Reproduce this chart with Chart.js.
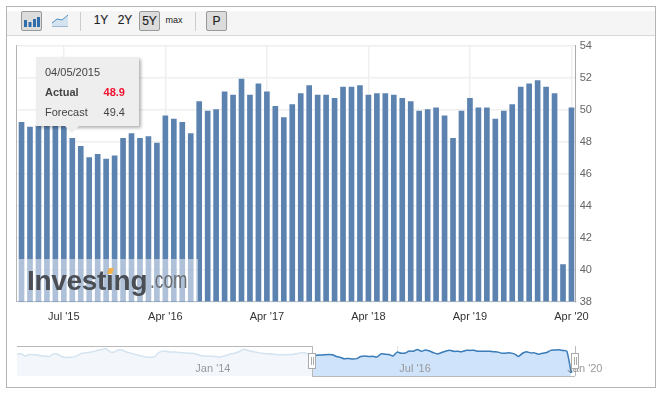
<!DOCTYPE html>
<html>
<head>
<meta charset="utf-8">
<title>Investing chart</title>
<script src="https://cdn.jsdelivr.net/npm/chart.js@4"></script>
<style>
  html, body { margin: 0; padding: 0; background: #fff; overflow: hidden; }
  body { font-family: "Liberation Sans", Arial, sans-serif; width: 662px; height: 395px; position: relative; }
  canvas { position: absolute; left: 0; }
  #frame { position: absolute; left: 6px; top: 6px; width: 648px; height: 380px; border: 1px solid #b4b4b4; }
  #toolbar { position: absolute; left: 7px; top: 11px; width: 648px; height: 24px; background: #f5f5f5; border-bottom: 1px solid #d8d8d8; }
  .btn { position: absolute; top: 11px; height: 20px; box-sizing: border-box; text-align: center; font-size: 12px; line-height: 19px; color: #222; -webkit-text-stroke: 0.15px #222; }
  .btn.on { background: #dcdcdc; border: 1px solid #999; border-radius: 2px; }
  .sep { position: absolute; top: 12px; height: 19px; width: 1px; background: #ccc; }
  #leftLine { position: absolute; left: 16px; top: 45px; width: 1px; height: 257px; background: #b4b4b4; }
  #mark { position: absolute; left: 17px; top: 259px; width: 181px; height: 42px; background: rgba(255,255,255,0.5); overflow: hidden; }
  #mark .big { position: absolute; left: 10px; top: 5px; font-size: 28px; font-weight: bold; letter-spacing: -0.3px; color: #4b4f55; line-height: 33px; }
  #mark .com { position: absolute; left: 133px; top: 5px; font-size: 24px; color: #6b6e72; line-height: 32px; transform: scaleX(0.72); transform-origin: left top; }
  #mark .dot { position: absolute; left: 91px; top: 9px; width: 5px; height: 6px; background: #f4b24c; transform: skewX(-15deg); }
  #tip { position: absolute; left: 36px; top: 57px; width: 103px; height: 69px; background: #eeeeee; box-shadow: 2px 2px 3px rgba(0,0,0,0.3); font-size: 11px; color: #444; }
  #tip div { position: absolute; white-space: nowrap; }
  #tipArrow { position: absolute; left: 65px; top: 126px; width: 0; height: 0; border-left: 7px solid transparent; border-right: 7px solid transparent; border-top: 7px solid #eeeeee; }
  .navLine { position: absolute; background: #b8b8b8; }
  .handle { position: absolute; top: 353px; width: 8px; height: 16px; box-sizing: border-box; background: #fff; border: 1px solid #aaa; }
  .handle i { position: absolute; left: 2px; top: 3px; height: 8px; border-left: 1px solid #aaa; border-right: 1px solid #aaa; width: 1px; }
</style>
</head>
<body>
<div id="frame"></div>
<div id="toolbar"></div>

<div class="btn on" style="left:21px;width:21px;-webkit-text-stroke:0;">
  <svg width="19" height="18" style="display:block">
    <rect x="2" y="8" width="3" height="7" fill="#2f6ea8"/>
    <rect x="6.5" y="10" width="3" height="5" fill="#2f6ea8"/>
    <rect x="11" y="7" width="3" height="8" fill="#2f6ea8"/>
    <rect x="15" y="5" width="3" height="10" fill="#2f6ea8"/>
  </svg>
</div>
<div class="btn" style="left:51px;width:18px;-webkit-text-stroke:0;">
  <svg width="18" height="18" style="display:block">
    <path d="M1 12 L6 8 L11 9 L17 4 L17 16 L1 16 Z" fill="#d5e2f0"/>
    <path d="M1 12 L6 8 L11 9 L17 4" fill="none" stroke="#4f8fc4" stroke-width="1"/>
    <path d="M1 15.5 L17 15.5" stroke="#9db8d4" stroke-width="1"/>
  </svg>
</div>
<div class="sep" style="left:80px;"></div>
<div class="btn" style="left:91px;width:20px;">1Y</div>
<div class="btn" style="left:115px;width:20px;">2Y</div>
<div class="btn on" style="left:139px;width:21px;">5Y</div>
<div class="btn" style="left:164px;width:20px;font-size:9px;-webkit-text-stroke:0;">max</div>
<div class="sep" style="left:195px;"></div>
<div class="btn on" style="left:206px;width:21px;">P</div>

<canvas id="mainChart" width="662" height="310" style="top:30px;"></canvas>
<canvas id="navChart" width="662" height="65" style="top:330px;"></canvas>

<div id="leftLine"></div>

<div id="mark">
  <span class="big">Investing</span>
  <span class="dot"></span>
  <span class="com">.com</span>
</div>

<div id="tip">
  <div id="tipDate" style="left:9px;top:9px;"></div>
  <div style="left:9px;top:29px;font-weight:bold;">Actual</div>
  <div id="tipActual" style="right:14px;top:29px;font-weight:bold;color:#f5102e;"></div>
  <div style="left:9px;top:49px;">Forecast</div>
  <div id="tipForecast" style="right:14px;top:49px;"></div>
</div>
<div id="tipArrow"></div>

<div class="navLine" style="left:17px;top:346px;width:295px;height:1px;"></div>
<div class="navLine" style="left:312px;top:346px;width:1px;height:31px;"></div>
<div class="navLine" style="left:312px;top:376px;width:263px;height:1px;"></div>
<div class="handle" style="left:308px;"><i></i></div>
<div class="handle" style="left:571px;"><i></i></div>

<script>
// 1. Data

// monthly PMI bars, oldest first
const actualValues = [
  49.2, 48.9, 49.0, 49.1, 49.2, 49.1, 48.2, 47.7, 47.0, 47.2,
  46.9, 47.1, 48.2, 48.5, 48.2, 48.3, 47.9, 49.6, 49.4, 49.2,
  48.5, 50.5, 49.9, 50.0, 51.1, 50.9, 51.9, 50.9, 51.6, 51.1,
  50.2, 49.5, 50.3, 51.0, 51.5, 50.9, 50.9, 50.7, 51.4, 51.4,
  51.5, 50.9, 51.0, 51.0, 50.9, 50.7, 50.5, 49.9, 50.0, 50.1,
  49.6, 48.2, 49.9, 50.7, 50.1, 50.1, 49.4, 49.9, 50.3, 51.4,
  51.6, 51.8, 51.4, 51.0, 40.3, 50.1
];

const yTicks = [38, 40, 42, 44, 46, 48, 50, 52, 54];
const tickBars = [5, 17, 29, 41, 53, 65];
const tickLabels = ["Jul '15", "Apr '16", "Apr '17", "Apr '18", "Apr '19", "Apr '20"];

const tipDate = "04/05/2015";
const tipActual = "48.9";
const tipForecast = "49.4";

// navigator line, the part before the selected range
const navHistory = [
  49.4, 49.6, 48.4, 49.2, 49.1, 49.0, 48.5, 48.4, 48.2, 49.5,
  49.4, 48.2, 47.7, 47.8, 48.0, 48.8, 49.9, 50.1, 50.4, 50.8,
  51.5, 51.9, 52.4, 50.6, 50.5, 51.6, 51.6, 50.6, 50.0, 49.4,
  48.9, 48.4, 47.9, 47.8, 48.0, 50.2, 51.0, 50.9, 50.5, 50.5,
  50.3, 50.2, 50.0, 49.9, 49.7, 49.0, 48.5, 48.4, 48.3, 48.2,
  48.0, 48.3, 49.0, 49.6, 50.0, 50.8, 52.0, 51.5, 50.9, 50.5,
  50.1, 49.8, 49.6, 49.5, 49.3, 49.1, 49.1, 49.2, 49.2, 49.6,
  50.1, 50.3, 49.5
];
const navTickPoints = [44, 94, 136, 138];
const navTickLabels = ["Jan '14", "Jul '16", "Jan '20", ""];

document.getElementById("tipDate").textContent = tipDate;
document.getElementById("tipActual").textContent = tipActual;
document.getElementById("tipForecast").textContent = tipForecast;

const fontFamily = '"Liberation Sans", Arial, sans-serif';

// 2. Main bar chart
const categories = actualValues.map((v, i) => {
  const k = tickBars.indexOf(i);
  return k >= 0 ? tickLabels[k] : "";
});

new Chart(document.getElementById("mainChart"), {
  type: "bar",
  data: {
    labels: categories,
    datasets: [{
      data: actualValues,
      backgroundColor: "#5c83b0",
      barThickness: 5
    }]
  },
  options: {
    responsive: false,
    animation: false,
    layout: { padding: { left: 17.3, top: 15.5, right: 0, bottom: 0 } },
    plugins: { legend: { display: false }, tooltip: { enabled: false } },
    scales: {
      x: {
        afterBuildTicks: axis => {
          axis.ticks = axis.ticks.filter(t => tickBars.includes(t.value));
        },
        afterFit: axis => { axis.height = 38.5; },
        grid: { offset: false, color: "#efefef", lineWidth: 1.5, drawTicks: false },
        border: { color: "#b8c0c8", width: 1 },
        ticks: {
          autoSkip: false,
          maxRotation: 0,
          padding: 9,
          color: "#333",
          font: { family: fontFamily, size: 11 },
          callback: value => tickLabels[tickBars.indexOf(value)]
        }
      },
      y: {
        position: "right",
        min: 38,
        max: 54,
        afterBuildTicks: axis => {
          axis.ticks = yTicks.map(v => ({ value: v }));
        },
        afterFit: axis => { axis.width = 86.3; },
        grid: { color: "#efefef", lineWidth: 1.5, drawTicks: false },
        border: { color: "#aaa", width: 1 },
        ticks: {
          padding: 4,
          color: "#666",
          font: { family: fontFamily, size: 11 }
        }
      }
    }
  }
});

// 3. Navigator under the chart
const selected = actualValues.slice(0, 65);
const navLabels = navHistory.concat(selected).concat([0]).map((v, i) => String(i));
const historySeries = navHistory.concat(selected[0]);
const selectedSeries = navHistory.map(() => null).concat(selected);
const lastPoint = selectedSeries.length - 1;

new Chart(document.getElementById("navChart"), {
  type: "line",
  data: {
    labels: navLabels,
    datasets: [
      {
        data: historySeries,
        borderColor: "#d3e3f0",
        borderWidth: 1.5,
        backgroundColor: "#f3f7fc",
        fill: "start",
        pointRadius: 0,
        tension: 0.2
      },
      {
        data: selectedSeries,
        borderColor: "#3a7cb8",
        borderWidth: 1.5,
        backgroundColor: "#cfe3fb",
        fill: "start",
        pointRadius: ctx => (ctx.dataIndex === lastPoint ? 1.5 : 0),
        pointBackgroundColor: "#2f6ea8",
        pointBorderWidth: 0,
        tension: 0.2
      }
    ]
  },
  options: {
    responsive: false,
    animation: false,
    layout: { padding: { left: 17, top: 16, right: 87, bottom: 0 } },
    plugins: { legend: { display: false }, tooltip: { enabled: false } },
    scales: {
      x: {
        afterBuildTicks: axis => {
          axis.ticks = axis.ticks.filter(t => navTickPoints.includes(t.value));
        },
        afterFit: axis => { axis.height = 19; },
        grid: {
          drawTicks: false,
          color: ctx => {
            const p = ctx.tick ? ctx.tick.value : -1;
            if (p === 94) return "#dde3ea";
            if (p === 138) return "#bbb";
            return "rgba(0,0,0,0)";
          }
        },
        border: { display: false },
        ticks: {
          z: 1,
          mirror: true,   // otherwise the labels get clipped to the axis box
          autoSkip: false,
          maxRotation: 0,
          padding: 0,
          labelOffset: 18,
          color: "#999",
          font: { family: fontFamily, size: 11 },
          callback: value => navTickLabels[navTickPoints.indexOf(value)]
        }
      },
      y: { display: false, min: 38, max: 53.7 }
    }
  }
});
</script>
</body>
</html>
